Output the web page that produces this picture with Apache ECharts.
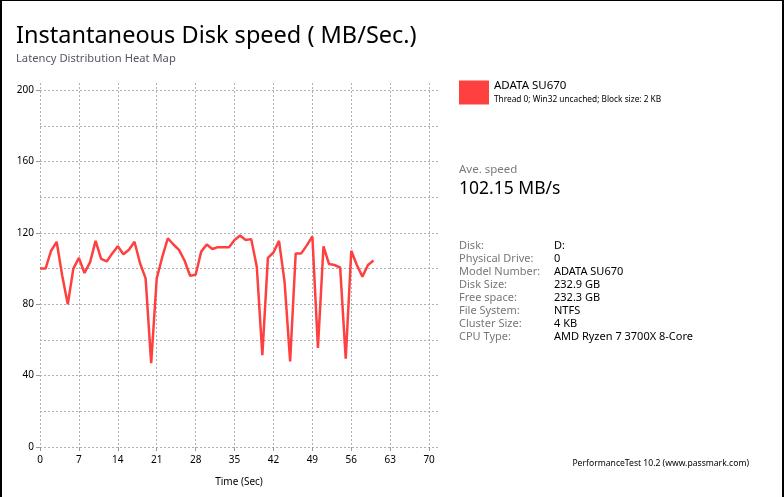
<!DOCTYPE html>
<html><head><meta charset="utf-8">
<script src="https://cdn.jsdelivr.net/npm/echarts@6/dist/echarts.min.js"></script>
<style>html,body{margin:0;padding:0;background:#fff}#c{width:784px;height:497px}</style>
</head><body><div id="c"></div>
<script>
// Data
const timeSec = [0,1,2,3,4,5,6,7,8,9,10,11,12,13,14,15,16,17,18,19,20,21,22,23,24,25,26,27,28,29,30,31,32,33,34,35,36,37,38,39,40,41,42,43,44,45,46,47,48,49,50,51,52,53,54,55,56,57,58,59,60];
const speedMBs = [100,100,110,115,96,80,100,106,97.5,103.5,115.5,105.5,104,108.5,112.5,108,110.5,115,103,94.5,47,94.5,106.5,117,113.5,110.5,104.5,96,96.5,109.5,113.5,111,112,112,112,116,118.5,116,116.5,101,51.5,106,109,115.5,92.5,48,108.5,108.5,113,118,55.5,112.5,102.5,102,100.5,49.5,110,102,95.5,102,104.5];
const seriesName = 'ADATA SU670';
const seriesDetail = 'Thread 0; Win32 uncached; Block size: 2 KB';
const infoLabels = ['Disk:','Physical Drive:','Model Number:','Disk Size:','Free space:','File System:','Cluster Size:','CPU Type:'];
const infoValues = ['D:','0','ADATA SU670','232.9 GB','232.3 GB','NTFS','4 KB','AMD Ryzen 7 3700X 8-Core'];
const aveSpeed = '102.15 MB/s';

const FONT = '"Noto Sans", "DejaVu Sans", sans-serif';
const lineData = timeSec.map((t,i)=>[t, speedMBs[i]]);

const graphics = [
  {type:'rect', shape:{x:0,y:0,width:2,height:497}, style:{fill:'#000'}},
  {type:'rect', shape:{x:0,y:0,width:784,height:1}, style:{fill:'#000'}},
  {type:'rect', shape:{x:782,y:0,width:2,height:497}, style:{fill:'#000'}},
  {type:'text', left:459, top:164, style:{text:'Ave. speed', fill:'#7a7a7a', font:'11.5px '+FONT}},
  {type:'text', left:459, top:180, style:{text:aveSpeed, fill:'#000', font:'17.5px '+FONT}},
  {type:'text', right:35, top:459, style:{text:'PerformanceTest 10.2 (www.passmark.com)', fill:'#000', font:'8.6px '+FONT}}
];
infoLabels.forEach((l,i)=>{
  graphics.push({type:'text', left:459, top:240+i*13.1, style:{text:l, fill:'#777', font:'11px '+FONT}});
  graphics.push({type:'text', left:554, top:240+i*13.1, style:{text:infoValues[i], fill:'#000', font:'11px '+FONT}});
});

const chart = echarts.init(document.getElementById('c'));
chart.setOption({
  animation:false,
  backgroundColor:'#fff',
  title:{text:'Instantaneous Disk speed ( MB/Sec.)', subtext:'Latency Distribution Heat Map', left:11, top:19, itemGap:5, padding:[5,5,5,5],
    textStyle:{fontFamily:FONT, fontSize:23.5, fontWeight:'normal', color:'#000'},
    subtextStyle:{fontFamily:FONT, fontSize:11.2, color:'#555566'}},
  legend:{left:459, top:80, padding:0, orient:'vertical', selectedMode:false, icon:'rect', itemWidth:30, itemHeight:24, itemGap:7,
    data:[seriesName],
    formatter: name => '{a|'+name+'}\n{b|'+seriesDetail+'}',
    textStyle:{rich:{a:{fontFamily:FONT,fontSize:11.5,color:'#000',lineHeight:15},b:{fontFamily:FONT,fontSize:8.3,color:'#000',lineHeight:13}}}},
  graphic: graphics,
  grid:{left:40, right:346, top:83, bottom:50, containLabel:false},
  xAxis:{type:'value', min:0, max:71.6, interval:7, name:'Time (Sec)', nameLocation:'middle', nameGap:30,
    nameTextStyle:{fontFamily:FONT,fontSize:10,color:'#000'},
    axisLine:{show:false}, axisTick:{show:true,length:4,lineStyle:{color:'#999'}},
    axisLabel:{fontFamily:FONT,fontSize:10,color:'#000',showMaxLabel:false, margin:8},
    splitLine:{show:true, showMaxLine:false, lineStyle:{color:'#b0b0b0',type:[2,2],width:1}}},
  yAxis:[
    {type:'value', min:0, max:204, interval:40, position:'left',
     axisLine:{show:false}, axisTick:{show:true,length:4,lineStyle:{color:'#999'}},
     axisLabel:{fontFamily:FONT,fontSize:10,color:'#000',showMaxLabel:false, margin:6},
     splitLine:{show:false}},
    {type:'value', min:0, max:204, interval:20, position:'right',
     axisLine:{show:false}, axisTick:{show:false}, axisLabel:{show:false},
     splitLine:{show:true, showMaxLine:false, lineStyle:{color:'#b0b0b0',type:[2,2],width:1}}}
  ],
  series:[{name:seriesName, type:'line', data:lineData, yAxisIndex:0, showSymbol:false, symbol:'none',
    lineStyle:{color:'#ff4040', width:2.5}, itemStyle:{color:'#ff4040'}}]
});
</script></body></html>
